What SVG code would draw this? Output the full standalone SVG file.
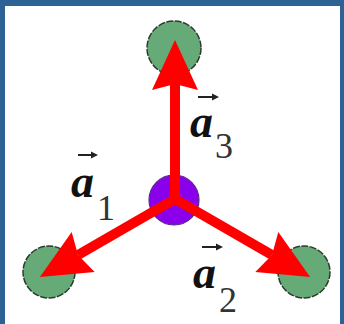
<svg xmlns="http://www.w3.org/2000/svg" width="344" height="324" viewBox="0 0 344 324">
<style>
.atom{fill:#66aa77;stroke:#2b3b2e;stroke-width:1.5;stroke-dasharray:7 1.5}
.center{fill:#8a00ea;stroke:#5a2a8a;stroke-width:1.2}
.vec{stroke:#ff0000;stroke-width:10;fill:none}
.a{font-family:"Liberation Serif",serif;font-weight:bold;font-style:italic;font-size:46px;fill:#111}
.sub{font-family:"Liberation Serif",serif;font-size:36px;fill:#333}
.ov{stroke:#222;stroke-width:2;fill:none}
</style>
<defs>
<marker id="head" markerUnits="userSpaceOnUse" markerWidth="60" markerHeight="60" refX="0" refY="0" orient="auto" overflow="visible">
<path d="M-6,-23 L44,0 L-6,23 L0,0 Z" fill="#ff0000"/>
</marker>
<marker id="small" markerUnits="userSpaceOnUse" markerWidth="10" markerHeight="10" refX="0" refY="0" orient="auto" overflow="visible">
<path d="M-4,-3.5 L3,0 L-4,3.5 Z" fill="#222"/>
</marker>
</defs>
<rect x="0" y="0" width="344" height="324" fill="#2f6294"/>
<rect x="5" y="6" width="335" height="318" fill="#ffffff"/>
<g id="atom-top"><circle class="atom" cx="174" cy="48" r="27"/></g>
<g id="atom-left"><circle class="atom" cx="49" cy="272" r="26"/></g>
<g id="atom-right"><circle class="atom" cx="304" cy="272" r="26"/></g>
<g id="atom-center"><circle class="center" cx="174" cy="200" r="25"/></g>
<g id="connectors">
<line class="vec" x1="175" y1="199" x2="175" y2="84" marker-end="url(#head)"/>
<line class="vec" x1="175" y1="199" x2="78" y2="255" marker-end="url(#head)"/>
<line class="vec" x1="175" y1="199" x2="272" y2="255" marker-end="url(#head)"/>
</g>
<g id="label-a3">
<line class="ov" x1="198" y1="97" x2="216" y2="97" marker-end="url(#small)"/>
<text class="a" x="190" y="137">a</text>
<text class="sub" x="215" y="158">3</text>
</g>
<g id="label-a1">
<line class="ov" x1="78" y1="155" x2="95" y2="155" marker-end="url(#small)"/>
<text class="a" x="71" y="197">a</text>
<text class="sub" x="97" y="220">1</text>
</g>
<g id="label-a2">
<line class="ov" x1="202" y1="247" x2="220" y2="247" marker-end="url(#small)"/>
<text class="a" x="193" y="288">a</text>
<text class="sub" x="219" y="312">2</text>
</g>
</svg>
